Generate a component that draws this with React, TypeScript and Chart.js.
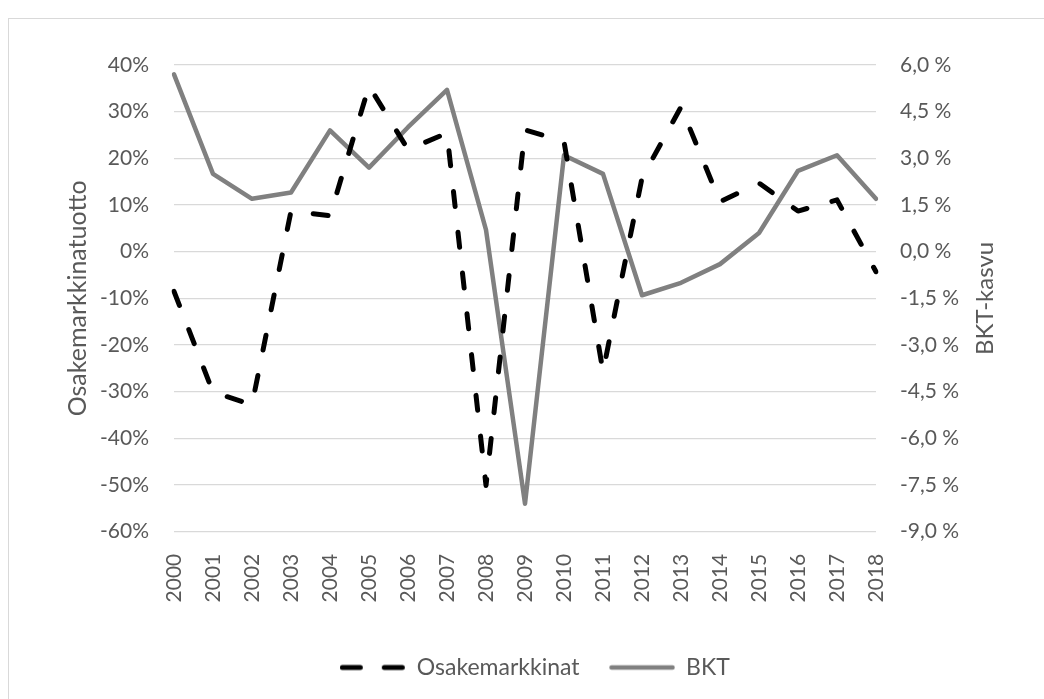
import React, { useEffect, useRef } from "react";
import { Chart, registerables } from "chart.js";

Chart.register(...registerables);

const years = [
  "2000", "2001", "2002", "2003", "2004", "2005", "2006", "2007", "2008", "2009",
  "2010", "2011", "2012", "2013", "2014", "2015", "2016", "2017", "2018",
];

// Osakemarkkinatuotto, % (left axis)
const osakemarkkinat = [
  -8.5, -30.1, -32.8, 8.7, 7.7, 35.5, 21.9, 25.4, -50.1, 26.1,
  23.6, -25.7, 15.8, 31.0, 10.7, 14.7, 8.7, 11.1, -4.3,
];

// BKT-kasvu, % (right axis)
const bkt = [
  5.7, 2.5, 1.7, 1.9, 3.9, 2.7, 4.0, 5.2, 0.7, -8.1,
  3.1, 2.5, -1.4, -1.0, -0.4, 0.6, 2.6, 3.1, 1.7,
];

const seriesLabels = ["Osakemarkkinat", "BKT"];
const leftTitle = "Osakemarkkinatuotto";
const rightTitle = "BKT-kasvu";
const leftMin = -60;
const leftMax = 40;
const leftStep = 10;
const rightMin = -9;
const rightMax = 6;
const rightStep = 1.5;

const TEXT = "#595959";
const FONT = "Lato";

function makeSwatch(color: string, lineWidth: number, dash: number[]) {
  const c = document.createElement("canvas");
  c.width = 66;
  c.height = 10;
  const ctx = c.getContext("2d")!;
  ctx.strokeStyle = color;
  ctx.lineWidth = lineWidth;
  ctx.lineCap = "round";
  ctx.setLineDash(dash);
  ctx.beginPath();
  ctx.moveTo(2.5, 5);
  ctx.lineTo(63.5, 5);
  ctx.stroke();
  return c;
}

export default function App() {
  const ref = useRef<HTMLCanvasElement>(null);

  useEffect(() => {
    if (!ref.current) return;
    const rightTitlePlugin = {
      id: "rightTitle",
      afterDraw(chart: any) {
        const { ctx, chartArea } = chart;
        ctx.save();
        ctx.font = `24px ${FONT}`;
        ctx.fillStyle = TEXT;
        ctx.textAlign = "center";
        ctx.textBaseline = "middle";
        ctx.translate(985, (chartArea.top + chartArea.bottom) / 2);
        ctx.rotate(-Math.PI / 2);
        ctx.fillText(rightTitle, 0, 0);
        ctx.restore();
      },
    };

    const dashSwatch = makeSwatch("#000000", 5, [18, 24]);
    const solidSwatch = makeSwatch("#808080", 4.5, []);

    const chart = new Chart(ref.current, {
      type: "line",
      data: {
        labels: years,
        datasets: [
          {
            label: seriesLabels[0],
            data: osakemarkkinat,
            yAxisID: "y",
            borderColor: "#000000",
            backgroundColor: "#000000",
            borderWidth: 5,
            borderDash: [15, 26],
            borderCapStyle: "round",
            borderJoinStyle: "round",
            pointRadius: 0,
            pointHoverRadius: 0,
            pointStyle: dashSwatch,
            tension: 0,
            fill: false,
          },
          {
            label: seriesLabels[1],
            data: bkt,
            yAxisID: "y1",
            borderColor: "#808080",
            backgroundColor: "#808080",
            borderWidth: 4.5,
            borderCapStyle: "round",
            borderJoinStyle: "round",
            pointRadius: 0,
            pointHoverRadius: 0,
            pointStyle: solidSwatch,
            tension: 0,
            fill: false,
          },
        ],
      },
      options: {
        responsive: false,
        animation: false,
        devicePixelRatio: 1,
        layout: { padding: { left: 26, right: 0, top: 65, bottom: 10 } },
        font: { family: FONT },
        plugins: {
          tooltip: { enabled: false },
          legend: {
            position: "bottom",
            labels: {
              usePointStyle: true,
              pointStyleWidth: 65,
              padding: 30,
              color: TEXT,
              font: { family: FONT, size: 23 },
            },
          },
        },
        scales: {
          x: {
            type: "category",
            offset: false,
            grid: { display: false },
            border: { display: false },
            ticks: {
              autoSkip: false,
              minRotation: 90,
              maxRotation: 90,
              padding: 14,
              color: TEXT,
              font: { family: FONT, size: 21 },
            },
            afterFit: (s: any) => {
              s.height = 94.3;
            },
          },
          y: {
            position: "left",
            min: leftMin,
            max: leftMax,
            ticks: {
              stepSize: leftStep,
              padding: 25,
              color: TEXT,
              font: { family: FONT, size: 21 },
              callback: (v: any) => `${Math.round(Number(v))}%`,
            },
            grid: { color: "#d9d9d9", lineWidth: 1.3, drawTicks: false },
            border: { display: false },
            title: {
              display: true,
              text: leftTitle,
              color: TEXT,
              font: { family: FONT, size: 25 },
              padding: { top: 37, bottom: 0 },
            },
            afterFit: (s: any) => {
              s.width = 148;
            },
          },
          y1: {
            position: "right",
            min: rightMin,
            max: rightMax,
            ticks: {
              stepSize: rightStep,
              padding: 24,
              color: TEXT,
              font: { family: FONT, size: 21 },
              callback: (v: any) =>
                `${(Math.round(Number(v) * 10) / 10 + 0).toFixed(1).replace(".", ",")} %`,
            },
            grid: { display: false, drawTicks: false },
            border: { display: false },
            afterFit: (s: any) => {
              s.width = 168;
            },
          },
        },
      },
      plugins: [rightTitlePlugin],
    } as any);

    return () => chart.destroy();
  }, []);

  return (
    <div
      style={{
        position: "fixed",
        left: 0,
        top: 0,
        width: 1044,
        height: 699,
        background: "#ffffff",
        overflow: "hidden",
      }}
    >
      <div
        style={{
          position: "absolute",
          left: 8,
          top: 18,
          width: 1100,
          height: 800,
          border: "1px solid #d9d9d9",
        }}
      />
      <canvas
        ref={ref}
        width={1044}
        height={699}
        style={{ position: "absolute", left: 0, top: 0, width: 1044, height: 699 }}
      />
    </div>
  );
}
